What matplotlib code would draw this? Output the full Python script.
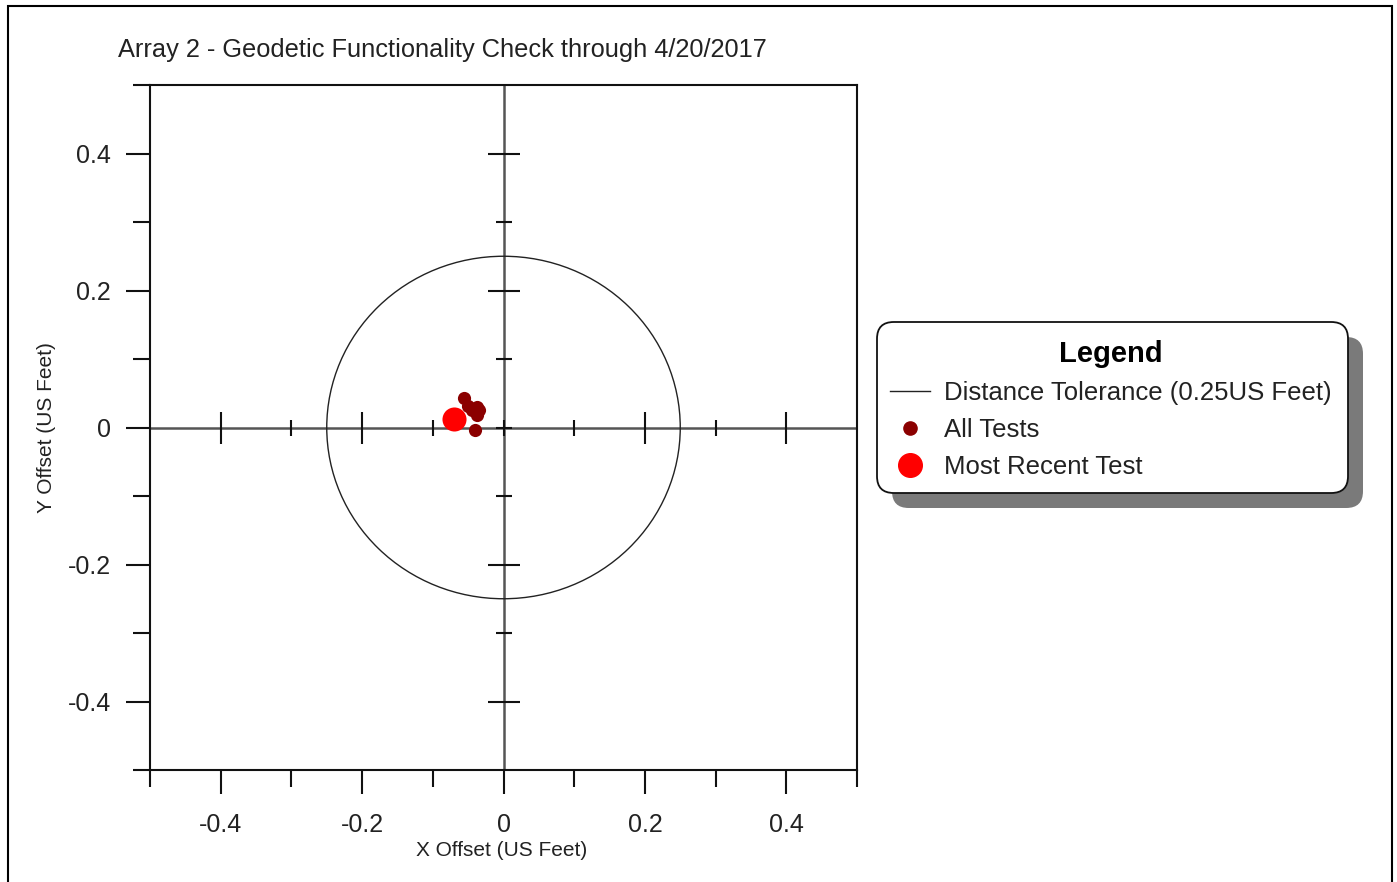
import matplotlib
matplotlib.use("Agg")
import matplotlib.pyplot as plt
from matplotlib.patches import Circle, FancyBboxPatch, Rectangle
from matplotlib.lines import Line2D
import numpy as np

plt.rcParams['font.family'] = ['Liberation Sans', 'DejaVu Sans']

# ---- data ----
title = "Array 2 - Geodetic Functionality Check through 4/20/2017"
all_x = [-0.056, -0.050, -0.045, -0.038, -0.034, -0.037, -0.041]
all_y = [0.043, 0.032, 0.025, 0.030, 0.025, 0.018, -0.004]
recent_x = [-0.070]
recent_y = [0.013]
tolerance = 0.25
major_ticks = [-0.4, -0.2, 0.0, 0.2, 0.4]
minor_ticks = [-0.5, -0.3, -0.1, 0.1, 0.3, 0.5]
tick_labels = ["-0.4", "-0.2", "0", "0.2", "0.4"]
legend_labels = ["Distance Tolerance (0.25US Feet)", "All Tests", "Most Recent Test"]

W, H = 1397, 882
fig = plt.figure(figsize=(W / 100, H / 100), dpi=100)
fig.patch.set_facecolor('white')

def fx(px):
    return px / W

def fy(py):
    return 1 - py / H

ax = fig.add_axes([fx(150), fy(770), fx(857) - fx(150), fy(85) - fy(770)])
ax.set_xlim(-0.5, 0.5)
ax.set_ylim(-0.5, 0.5)
ax.set_facecolor('white')

for s in ax.spines.values():
    s.set_linewidth(1.5)
    s.set_color('#111111')

ax.set_xticks(major_ticks)
ax.set_xticklabels(tick_labels)
ax.set_yticks(major_ticks)
ax.set_yticklabels(tick_labels)
ax.set_xticks(minor_ticks, minor=True)
ax.set_yticks(minor_ticks, minor=True)
ax.tick_params(which='major', direction='out', length=17, width=1.5, color='#111111',
               labelsize=18, labelcolor='#222222', pad=11)
ax.tick_params(which='minor', direction='out', length=12, width=1.5, color='#111111')
ax.tick_params(axis='x', which='both', top=False, bottom=True)
ax.tick_params(axis='y', which='both', right=False, left=True)
ax.tick_params(axis='x', which='major', pad=14)

# central cross axes
ax.axhline(0, color='#555555', lw=1.8, zorder=1)
ax.axvline(0, color='#555555', lw=1.8, zorder=1)
mj = [t for t in major_ticks if t != 0]
ax.plot(mj, np.zeros(len(mj)), ls='none', marker='|', markersize=23, mew=1.5, color='#111111', zorder=2)
ax.plot(minor_ticks[1:-1], np.zeros(len(minor_ticks) - 2), ls='none', marker='|', markersize=12, mew=1.5, color='#111111', zorder=2)
ax.plot(np.zeros(len(mj)), mj, ls='none', marker='_', markersize=23, mew=1.5, color='#111111', zorder=2)
ax.plot(np.zeros(len(minor_ticks) - 2), minor_ticks[1:-1], ls='none', marker='_', markersize=12, mew=1.5, color='#111111', zorder=2)
ax.plot([0], [0], ls='none', marker='+', markersize=12, mew=1.5, color='#111111', zorder=2)

# tolerance circle
circ = Circle((0, 0), tolerance, fill=False, edgecolor='#222222', lw=1.0, zorder=3)
ax.add_patch(circ)

# points
h_all = ax.scatter(all_x, all_y, s=90, color='#8B0000', zorder=4, linewidths=0)
h_rec = ax.scatter(recent_x, recent_y, s=300, color='#FF0000', zorder=5, linewidths=0)

ax.set_xlabel("X Offset (US Feet)", fontsize=15, color='#222222')
ax.set_ylabel("Y Offset (US Feet)", fontsize=15, color='#222222')
ax.xaxis.set_label_coords((502 - 150) / 707, (770 - 850) / 685)
ax.yaxis.set_label_coords((47 - 150) / 707, 0.5)
ax.xaxis.label.set_va('center')
ax.yaxis.label.set_va('center')

fig.text(fx(118), fy(50), title, fontsize=18.3, color='#222222', ha='left', va='center')

# legend box with shadow
shadow = FancyBboxPatch((fx(892), fy(508)), fx(1363) - fx(892), fy(337) - fy(508),
                        boxstyle="round,pad=0,rounding_size=0.012", transform=fig.transFigure,
                        facecolor='#7a7a7a', edgecolor='none', zorder=1, mutation_aspect=W / H)
box = FancyBboxPatch((fx(877), fy(493)), fx(1348) - fx(877), fy(322) - fy(493),
                     boxstyle="round,pad=0,rounding_size=0.012", transform=fig.transFigure,
                     facecolor='white', edgecolor='#111111', lw=1.3, zorder=2, mutation_aspect=W / H)
fig.add_artist(shadow)
fig.add_artist(box)

line_handle = Line2D([], [], color='#222222', lw=1.0)
all_handle = Line2D([], [], ls='none', marker='o', markersize=9.5, color='#8B0000')
rec_handle = Line2D([], [], ls='none', marker='o', markersize=17, color='#FF0000')
leg = fig.legend([line_handle, all_handle, rec_handle], legend_labels,
                 loc='upper left', bbox_to_anchor=(fx(890), fy(340)),
                 frameon=False, fontsize=18.5, title="Legend",
                 title_fontproperties={'weight': 'bold', 'size': 21},
                 handlelength=1.56, handletextpad=0.54, labelspacing=0.5,
                 borderpad=0, borderaxespad=0)
for t in leg.get_texts():
    t.set_color('#222222')
leg.set_zorder(3)

# outer border
fig.add_artist(Rectangle((fx(7.5), -0.02), fx(1391.5) - fx(7.5), fy(5.5) + 0.02,
                         transform=fig.transFigure, fill=False, edgecolor='black', lw=1.5))

fig.savefig("out.png", dpi=100)
